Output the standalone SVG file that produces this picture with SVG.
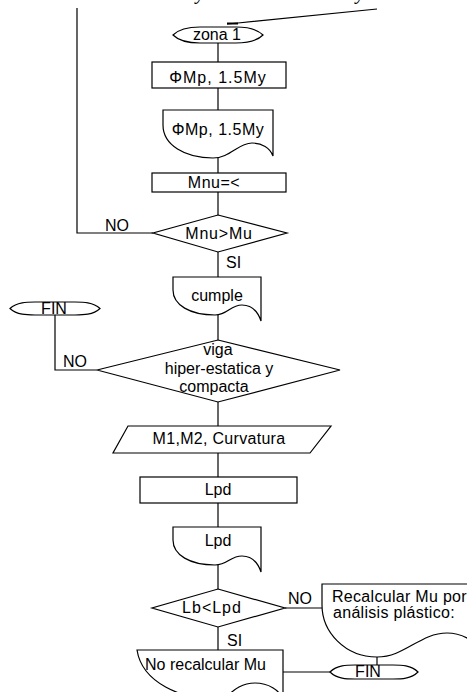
<svg xmlns="http://www.w3.org/2000/svg" width="467" height="692" viewBox="0 0 467 692">
<style>
.s{fill:#fff;stroke:#000;stroke-width:1.2}
.c{fill:none;stroke:#000;stroke-width:1.2}
text{font-family:"Liberation Sans",Arial,sans-serif;font-size:16px;fill:#000}
.m{text-anchor:middle}
.t{font-family:"Liberation Serif","Times New Roman",serif;font-style:italic;font-size:20px}
</style>
<rect width="467" height="692" fill="#fff"/>
<text class="t" x="196" y="-1">y</text>
<text class="t" x="356" y="-1">y</text>
<g id="connectors">
<polyline class="c" points="377,9 238,23 227,24"/>
<line x1="227" y1="23.5" x2="238" y2="23.5" stroke="#000" stroke-width="2"/>
<polyline class="c" points="153,233 77,233 77,8"/>
<line class="c" x1="218" y1="43" x2="218" y2="62"/>
<line class="c" x1="218" y1="88" x2="218" y2="110"/>
<line class="c" x1="218" y1="157" x2="218" y2="173"/>
<line class="c" x1="218" y1="192" x2="218" y2="215"/>
<line class="c" x1="218" y1="252" x2="218" y2="277"/>
<line class="c" x1="218" y1="315" x2="218" y2="340"/>
<polyline class="c" points="55,315 55,370 97,370"/>
<line class="c" x1="218" y1="402" x2="218" y2="426"/>
<line class="c" x1="218" y1="453" x2="218" y2="477"/>
<line class="c" x1="218" y1="503" x2="218" y2="527"/>
<line class="c" x1="218" y1="565" x2="218" y2="589"/>
<line class="c" x1="285" y1="608" x2="322" y2="608"/>
<line class="c" x1="218" y1="627" x2="218" y2="650"/>
<line class="c" x1="377" y1="657" x2="377" y2="665"/>
<line class="c" x1="283" y1="672" x2="330" y2="672"/>
</g>
<g id="zona1">
<path class="s" d="M173,35 C180,28 192,27 200,27 H236 C244,27 256,28 263,35 C256,42 244,43 236,43 H200 C192,43 180,42 173,35 Z"/>
<text class="m" x="217" y="40">zona 1</text>
</g>
<g id="proc1">
<rect class="s" x="152" y="62" width="134" height="26"/>
<text class="m" x="218" y="83" letter-spacing="1">ΦMp, 1.5My</text>
</g>
<g id="doc1">
<path class="s" d="M163,110 H273 V156 C270,148 262,143 252,143 C238,143 230,158 213,158 C185,158 163,145 163,125 Z"/>
<text class="m" x="218" y="135" letter-spacing="0.5">ΦMp, 1.5My</text>
</g>
<g id="proc2">
<rect class="s" x="152" y="173" width="134" height="19"/>
<text class="m" x="214" y="188" letter-spacing="0.5">Mnu=&lt;</text>
</g>
<g id="dec1">
<polygon class="s" points="218,215 287,233 218,252 153,233"/>
<text class="m" x="219" y="239" letter-spacing="0.8">Mnu&gt;Mu</text>
<text x="105" y="231">NO</text>
<text x="226" y="268">SI</text>
</g>
<g id="doc2">
<path class="s" d="M173,277 H261 V321 C258,312 252,305 242,305 C230,305 228,315 215,315 C190,315 173,305 173,290 Z"/>
<text class="m" x="217" y="301">cumple</text>
</g>
<g id="fin1">
<path class="s" d="M10,308.5 C17,302 27,302 35,302 H75 C83,302 93,302 100,308.5 C93,315 83,315 75,315 H35 C27,315 17,315 10,308.5 Z"/>
<text class="m" x="54" y="314">FIN</text>
</g>
<g id="dec2">
<polygon class="s" points="218,340 340,370 218,402 97,370"/>
<text class="m" x="218" y="355">viga</text>
<text class="m" x="219" y="374">hiper-estatica y</text>
<text class="m" x="214" y="392">compacta</text>
<text x="63" y="367">NO</text>
</g>
<g id="io1">
<polygon class="s" points="128,426 331,426 310,453 113,453"/>
<text class="m" x="219" y="444" letter-spacing="0.3">M1,M2, Curvatura</text>
</g>
<g id="proc3">
<rect class="s" x="140" y="477" width="157" height="26"/>
<text class="m" x="218" y="495">Lpd</text>
</g>
<g id="doc3">
<path class="s" d="M173,527 H261 V572 C258,563 252,556 242,556 C230,556 228,565 215,565 C190,565 173,555 173,540 Z"/>
<text class="m" x="218" y="546">Lpd</text>
</g>
<g id="dec3">
<polygon class="s" points="218,589 285,608 218,627 152,608"/>
<text class="m" x="212" y="613" letter-spacing="1">Lb&lt;Lpd</text>
<text x="288" y="604">NO</text>
<text x="227" y="646">SI</text>
</g>
<g id="doc4">
<path class="s" d="M322,584 H492 V662 C482,646 466,633 447,633 C420,633 405,657 377,657 C345,657 322,632 322,605 Z"/>
<text x="332" y="602" letter-spacing="0.3">Recalcular Mu por</text>
<text x="333" y="618" letter-spacing="0.3">análisis plástico:</text>
</g>
<g id="fin2">
<path class="s" d="M330,672 C337,665 347,665 355,665 H393 C401,665 411,665 418,672 C411,679 401,679 393,679 H355 C347,679 337,679 330,672 Z"/>
<text class="m" x="368" y="677">FIN</text>
</g>
<g id="doc5">
<path class="s" d="M137,650 H283 V700 C280,690 268,683 255,683 C240,683 232,692 222,700 C180,700 142,682 137,650 Z"/>
<text x="145" y="670">No recalcular Mu</text>
</g>
</svg>
